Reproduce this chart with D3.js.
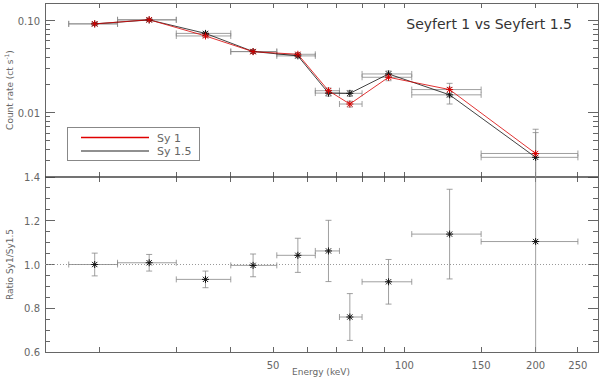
<!DOCTYPE html>
<html>
<head>
<meta charset="utf-8">
<script src="https://cdn.jsdelivr.net/npm/d3@7"></script>
<style>
  body { margin: 0; background: #fff; }
  text { font-family: "DejaVu Sans", "Liberation Sans", sans-serif; fill: #666; }
</style>
</head>
<body>
<div id="chart"></div>
<script>
// energy bins (keV)
var eLo  = [17, 22, 30, 40, 51, 62.5, 71, 80, 104, 150];
var eHi  = [22, 30, 40, 51, 62.5, 71, 80, 104, 150, 250];
var eMid = [19.5, 26, 35, 45, 57, 67, 75, 92, 127, 200];

// count rates
var sy1    = [0.092, 0.102, 0.068, 0.0459, 0.0430, 0.0173, 0.0124, 0.0242, 0.0178, 0.0036];
var sy1Err = [0.003, 0.003, 0.0025, 0.0018, 0.002, 0.0012, 0.0009, 0.002, 0.003, 0.003];
var sy15    = [0.092, 0.1015, 0.0725, 0.0461, 0.0413, 0.0163, 0.0162, 0.0263, 0.0156, 0.00327];
var sy15Err = [0.003, 0.003, 0.0025, 0.0018, 0.002, 0.0012, 0.0012, 0.002, 0.0032, 0.0028];

// ratio Sy1/Sy1.5
var ratio    = [1.00, 1.008, 0.932, 0.996, 1.042, 1.062, 0.76, 0.921, 1.139, 1.105];
var ratioErr = [0.052, 0.038, 0.038, 0.052, 0.078, 0.14, 0.107, 0.102, 0.205, 0.6];

var xTicks = [20, 30, 40, 50, 60, 70, 80, 90, 100, 150, 200, 250];
var xLabels = [50, 100, 150, 200, 250];
var topMajor = [0.01, 0.1];
var topMinor = [0.002, 0.003, 0.004, 0.005, 0.006, 0.007, 0.008, 0.009,
                0.02, 0.03, 0.04, 0.05, 0.06, 0.07, 0.08, 0.09];
var botMajor = [0.6, 0.8, 1.0, 1.2, 1.4];

var width = 600, height = 382;
var left = 45, right = 598, top1 = 3, mid = 177, bot = 352;

var svg = d3.select("#chart").append("svg")
  .attr("width", width)
  .attr("height", height);

var x = d3.scaleLog().domain([15, 278]).range([left, right]);
var yTop = d3.scaleLog().domain([0.002, 0.155]).range([mid, top1]);
var yBot = d3.scaleLinear().domain([0.6, 1.4]).range([bot, mid]);

var defs = svg.append("defs");
defs.append("clipPath").attr("id", "clipTop")
  .append("rect").attr("x", left).attr("y", top1).attr("width", right - left).attr("height", mid - top1);
defs.append("clipPath").attr("id", "clipBot")
  .append("rect").attr("x", left).attr("y", mid).attr("width", right - left).attr("height", bot - mid);

var axisColor = "#666";
var errColor = "#888";
var red = "#d80000";

// ticks
var ticks = svg.append("g").attr("stroke", axisColor).attr("stroke-width", 1)
  .attr("shape-rendering", "crispEdges");
xTicks.forEach(function (t) {
  var xx = x(t);
  var len = 5;
  ticks.append("line").attr("x1", xx).attr("x2", xx).attr("y1", top1).attr("y2", top1 + len);
  ticks.append("line").attr("x1", xx).attr("x2", xx).attr("y1", mid).attr("y2", mid - len);
  ticks.append("line").attr("x1", xx).attr("x2", xx).attr("y1", mid).attr("y2", mid + len);
  ticks.append("line").attr("x1", xx).attr("x2", xx).attr("y1", bot).attr("y2", bot - len);
});
topMajor.forEach(function (t) {
  var yy = yTop(t);
  ticks.append("line").attr("x1", left).attr("x2", left + 10).attr("y1", yy).attr("y2", yy);
  ticks.append("line").attr("x1", right).attr("x2", right - 10).attr("y1", yy).attr("y2", yy);
});
topMinor.forEach(function (t) {
  var yy = yTop(t);
  ticks.append("line").attr("x1", left).attr("x2", left + 5).attr("y1", yy).attr("y2", yy);
  ticks.append("line").attr("x1", right).attr("x2", right - 5).attr("y1", yy).attr("y2", yy);
});
d3.range(0.6, 1.4001, 0.05).forEach(function (t) {
  var yy = yBot(t);
  var major = Math.abs(Math.round(t * 5) - t * 5) < 1e-6;
  var len = major ? 10 : 5;
  ticks.append("line").attr("x1", left).attr("x2", left + len).attr("y1", yy).attr("y2", yy);
  ticks.append("line").attr("x1", right).attr("x2", right - len).attr("y1", yy).attr("y2", yy);
});

// frames
svg.append("rect").attr("x", left).attr("y", top1).attr("width", right - left).attr("height", bot - top1)
  .attr("fill", "none").attr("stroke", axisColor).attr("stroke-width", 1)
  .attr("shape-rendering", "crispEdges");
svg.append("line").attr("x1", left).attr("x2", right).attr("y1", mid).attr("y2", mid)
  .attr("stroke", "#444").attr("stroke-width", 1.5);

// tick labels
svg.append("g").selectAll("text").data(topMajor).enter().append("text")
  .attr("x", left - 5).attr("y", d => yTop(d) + 4)
  .attr("text-anchor", "end").style("font-size", "10px")
  .text(d => d.toFixed(2));
svg.append("g").selectAll("text").data(botMajor).enter().append("text")
  .attr("x", left - 5).attr("y", d => yBot(d) + 4)
  .attr("text-anchor", "end").style("font-size", "10px")
  .text(d => d.toFixed(1));
svg.append("g").selectAll("text").data(xLabels).enter().append("text")
  .attr("x", d => x(d)).attr("y", bot + 17)
  .attr("text-anchor", "middle").style("font-size", "10px")
  .text(d => d);

// axis titles
svg.append("text")
  .attr("transform", `translate(13, ${(top1 + mid) / 2}) rotate(-90)`)
  .attr("text-anchor", "middle").style("font-size", "9px")
  .html("Count rate (ct s<tspan dy='-4' font-size='6px'>-1</tspan><tspan dy='4'>)</tspan>");
svg.append("text")
  .attr("transform", `translate(13, ${(mid + bot) / 2}) rotate(-90)`)
  .attr("text-anchor", "middle").style("font-size", "9px")
  .text("Ratio Sy1/Sy1.5");
svg.append("text")
  .attr("x", 321).attr("y", 375)
  .attr("text-anchor", "middle").style("font-size", "9px")
  .text("Energy (keV)");

svg.append("text")
  .attr("x", 572).attr("y", 29)
  .attr("text-anchor", "end").style("font-size", "14px").style("fill", "#333")
  .text("Seyfert 1 vs Seyfert 1.5");

function asterisk(g, cx, cy, color) {
  var r = 3.5, d = r * 0.75;
  g.append("path")
    .attr("d", `M${cx - r},${cy}L${cx + r},${cy}M${cx},${cy - r}L${cx},${cy + r}` +
      `M${cx - d},${cy - d}L${cx + d},${cy + d}M${cx - d},${cy + d}L${cx + d},${cy - d}`)
    .attr("stroke", color).attr("stroke-width", 1).attr("fill", "none");
}

function errorBars(g, yScale, vals, errs) {
  vals.forEach(function (v, i) {
    var yy = yScale(v), xl = x(eLo[i]), xr = x(eHi[i]), xc = x(eMid[i]);
    var y1 = yScale(Math.max(v - errs[i], 1e-6)), y2 = yScale(v + errs[i]);
    g.append("line").attr("x1", xl).attr("x2", xr).attr("y1", yy).attr("y2", yy);
    g.append("line").attr("x1", xl).attr("x2", xl).attr("y1", yy - 3).attr("y2", yy + 3);
    g.append("line").attr("x1", xr).attr("x2", xr).attr("y1", yy - 3).attr("y2", yy + 3);
    g.append("line").attr("x1", xc).attr("x2", xc).attr("y1", y1).attr("y2", y2);
    g.append("line").attr("x1", xc - 3).attr("x2", xc + 3).attr("y1", y1).attr("y2", y1);
    g.append("line").attr("x1", xc - 3).attr("x2", xc + 3).attr("y1", y2).attr("y2", y2);
  });
}

// top panel
var gTop = svg.append("g").attr("clip-path", "url(#clipTop)");
var errTop = gTop.append("g").attr("stroke", errColor).attr("stroke-width", 0.8);
errorBars(errTop, yTop, sy15, sy15Err);
errorBars(errTop, yTop, sy1, sy1Err);

var line = d3.line().x((d, i) => x(eMid[i])).y(d => yTop(d));
gTop.append("path").datum(sy15).attr("d", line)
  .attr("fill", "none").attr("stroke", "#111").attr("stroke-width", 0.8);
gTop.append("path").datum(sy1).attr("d", line)
  .attr("fill", "none").attr("stroke", red).attr("stroke-width", 0.8);
sy15.forEach((v, i) => asterisk(gTop, x(eMid[i]), yTop(v), "#111"));
sy1.forEach((v, i) => asterisk(gTop, x(eMid[i]), yTop(v), red));

// legend
var leg = svg.append("g");
leg.append("rect").attr("x", 67.5).attr("y", 127.5).attr("width", 132).attr("height", 33)
  .attr("fill", "#fff").attr("stroke", "#888").attr("shape-rendering", "crispEdges");
leg.append("line").attr("x1", 81).attr("x2", 149).attr("y1", 137.5).attr("y2", 137.5)
  .attr("stroke", "#e00000").attr("stroke-width", 1.5);
leg.append("line").attr("x1", 81).attr("x2", 149).attr("y1", 151).attr("y2", 151)
  .attr("stroke", "#222").attr("stroke-width", 1.2);
leg.append("text").attr("x", 157).attr("y", 141.5).style("font-size", "11px").text("Sy 1");
leg.append("text").attr("x", 157).attr("y", 155).style("font-size", "11px").text("Sy 1.5");

// bottom panel
var gBot = svg.append("g").attr("clip-path", "url(#clipBot)");
gBot.append("line").attr("x1", left).attr("x2", right).attr("y1", yBot(1)).attr("y2", yBot(1))
  .attr("stroke", "#999").attr("stroke-dasharray", "1,2");
var errBot = gBot.append("g").attr("stroke", errColor).attr("stroke-width", 0.8);
errorBars(errBot, yBot, ratio, ratioErr);
ratio.forEach((v, i) => asterisk(gBot, x(eMid[i]), yBot(v), "#111"));
</script>
</body>
</html>
